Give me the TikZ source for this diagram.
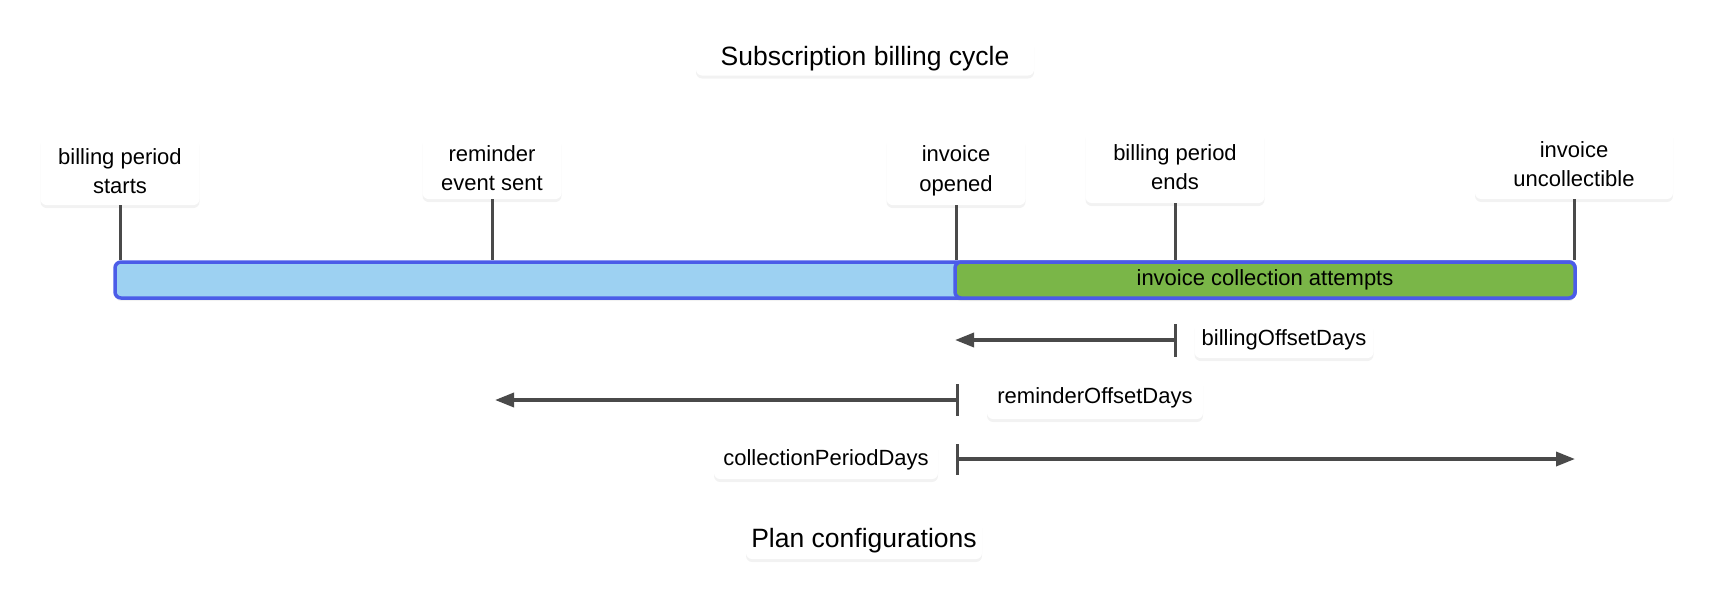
\documentclass[tikz,border=0pt]{standalone}
\usepackage{fontspec}
\setmainfont{Liberation Sans}
\usetikzlibrary{arrows.meta,shadows}
\definecolor{barblue}{HTML}{9DD1F2}
\definecolor{bargreen}{HTML}{7AB648}
\definecolor{barline}{HTML}{4B5CE8}
\definecolor{linegray}{HTML}{4A4A4A}
\tikzset{
  softshadow/.style={drop shadow={opacity=0.10, shadow xshift=0pt, shadow yshift=-3pt}},
  labelbox/.style={fill=white, rounded corners=6pt, align=center, inner sep=0pt,
    font=\fontsize{22}{29.5}\selectfont, softshadow},
  titlebox/.style={labelbox, font=\fontsize{26.5}{32}\selectfont, text depth=3pt},
  barnode/.style={draw=barline, line width=3.5pt, rounded corners=6pt, inner sep=0pt,
    minimum height=36pt, font=\fontsize{22}{26}\selectfont, softshadow},
  ticklin/.style={draw=linegray, line width=3pt},
  arr/.style={draw=linegray, line width=3.5pt, -{Triangle[length=19pt,width=14pt]}},
}
\begin{document}
\begin{tikzpicture}[x=1pt,y=-1pt]
\useasboundingbox (0,0) rectangle (1715,600);
% titles
\node[titlebox, minimum width=338pt, minimum height=37pt] (title) at (865,57) {Subscription billing cycle};
\node[titlebox, minimum width=236pt, minimum height=40pt] (plan) at (864,539) {Plan configurations};
% bar
\node[barnode, fill=barblue, minimum width=1460pt] (bar) at (845,280) {};
\node[barnode, fill=bargreen, minimum width=620pt] (green) at (1265,280) {invoice collection attempts};
% event labels
\node[labelbox, minimum width=159pt, minimum height=68pt] (bps) at (120,171) {billing period\\starts};
\node[labelbox, minimum width=139pt, minimum height=62pt] (res) at (492,168) {reminder\\event sent};
\node[labelbox, minimum width=139pt, minimum height=68pt] (io) at (956,171) {invoice\\opened};
\node[labelbox, minimum width=179pt, minimum height=72pt] (bpe) at (1175,167) {billing period\\ends};
\node[labelbox, minimum width=198pt, minimum height=70pt] (iu) at (1574,164) {invoice\\uncollectible};
% ticks to the bar
\foreach \n in {bps,res,io,bpe,iu}
  \draw[ticklin] (\n.south) -- (\n.south |- bar.north);
% billingOffsetDays
\coordinate (bA) at (1175,340);
\coordinate (bB) at (955,340);
\coordinate (bT1) at (1175,324);
\coordinate (bT2) at (1175,357);
\draw[ticklin] (bT1) -- (bT2);
\draw[arr] (bA) -- (bB);
\node[labelbox, minimum width=179pt, minimum height=36pt] (bod) at (1284,340) {billingOffsetDays};
% reminderOffsetDays
\coordinate (rA) at (957,400);
\coordinate (rB) at (495,400);
\coordinate (rT1) at (957,384);
\coordinate (rT2) at (957,416);
\draw[ticklin] (rT1) -- (rT2);
\draw[arr] (rA) -- (rB);
\node[labelbox, minimum width=216pt, minimum height=42pt] (rod) at (1095,398) {reminderOffsetDays};
% collectionPeriodDays
\coordinate (cA) at (957,459);
\coordinate (cB) at (1575,459);
\coordinate (cT1) at (957,444);
\coordinate (cT2) at (957,475);
\draw[ticklin] (cT1) -- (cT2);
\draw[arr] (cA) -- (cB);
\node[labelbox, minimum width=224pt, minimum height=38pt] (cpd) at (826,460) {collectionPeriodDays};
\end{tikzpicture}
\end{document}
